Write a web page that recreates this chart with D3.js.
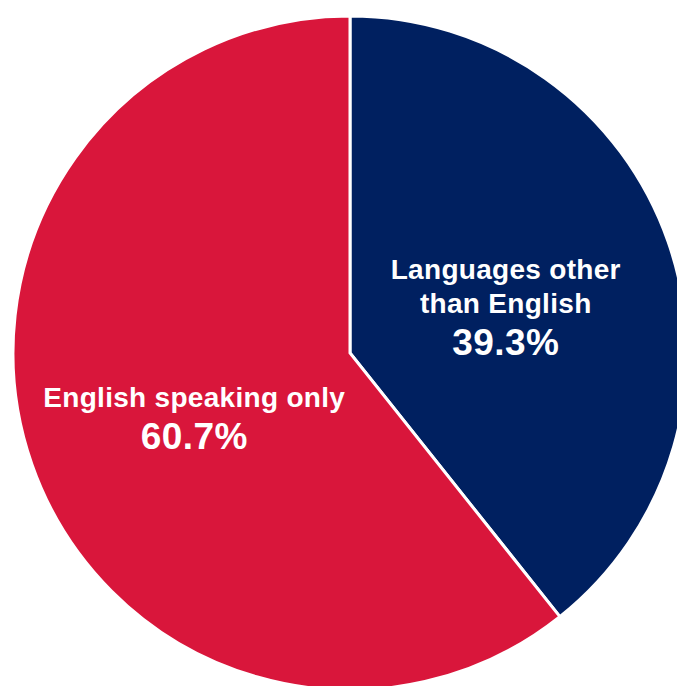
<!DOCTYPE html>
<html>
<head>
<meta charset="utf-8">
<script src="https://cdn.jsdelivr.net/npm/d3@7"></script>
<style>
  body { margin: 0; background: #fff; }
  svg { display: block; }
  .lbl { font-family: "Liberation Sans", Arial, sans-serif; font-weight: bold; fill: #fff; text-anchor: middle; }
</style>
</head>
<body>
<div id="chart"></div>
<script>
// Data
const categories = ["Languages other than English", "English speaking only"];
const shares = [39.3, 60.7];
const labelLines = [["Languages other", "than English"], ["English speaking only"]];
const colors = ["#002060", "#d9163b"];

const width = 677;
const height = 686;
const cx = 350, cy = 353;
const radius = 337;

const svg = d3.select("#chart")
  .append("svg")
    .attr("width", width)
    .attr("height", height);

const g = svg.append("g")
  .attr("transform", "translate(" + cx + "," + cy + ")");

const pieData = categories.map((c, i) => ({ key: c, val: shares[i], lines: labelLines[i], color: colors[i] }));

const pie = d3.pie()
  .sort(null)
  .value(d => d.val);

const arc = d3.arc()
  .innerRadius(0)
  .outerRadius(radius);

const labelArc = d3.arc()
  .innerRadius(165)
  .outerRadius(165);

const slices = g.selectAll(".arc")
  .data(pie(pieData))
  .enter().append("g")
    .attr("class", "arc");

slices.append("path")
  .attr("d", arc)
  .attr("fill", d => d.data.color)
  .attr("stroke", "#fff")
  .attr("stroke-width", 3)
  .attr("stroke-linejoin", "miter");

// labels: name lines then percentage, block around the centroid
const blockOffset = [-20, 0];
slices.each(function(d, i) {
  const [x, y] = labelArc.centroid(d);
  const grp = d3.select(this);
  const y0 = y + blockOffset[i];
  d.data.lines.forEach((line, j) => {
    grp.append("text")
      .attr("class", "lbl")
      .attr("x", x)
      .attr("y", y0 + j * 34)
      .style("font-size", "28px")
      .style("letter-spacing", "0.3px")
      .text(line);
  });
  grp.append("text")
    .attr("class", "lbl")
    .attr("x", x)
    .attr("y", y0 + (d.data.lines.length - 1) * 34 + 42)
    .style("font-size", "37px")
    .style("letter-spacing", "0.4px")
    .text(d.data.val.toFixed(1) + "%");
});
</script>
</body>
</html>
